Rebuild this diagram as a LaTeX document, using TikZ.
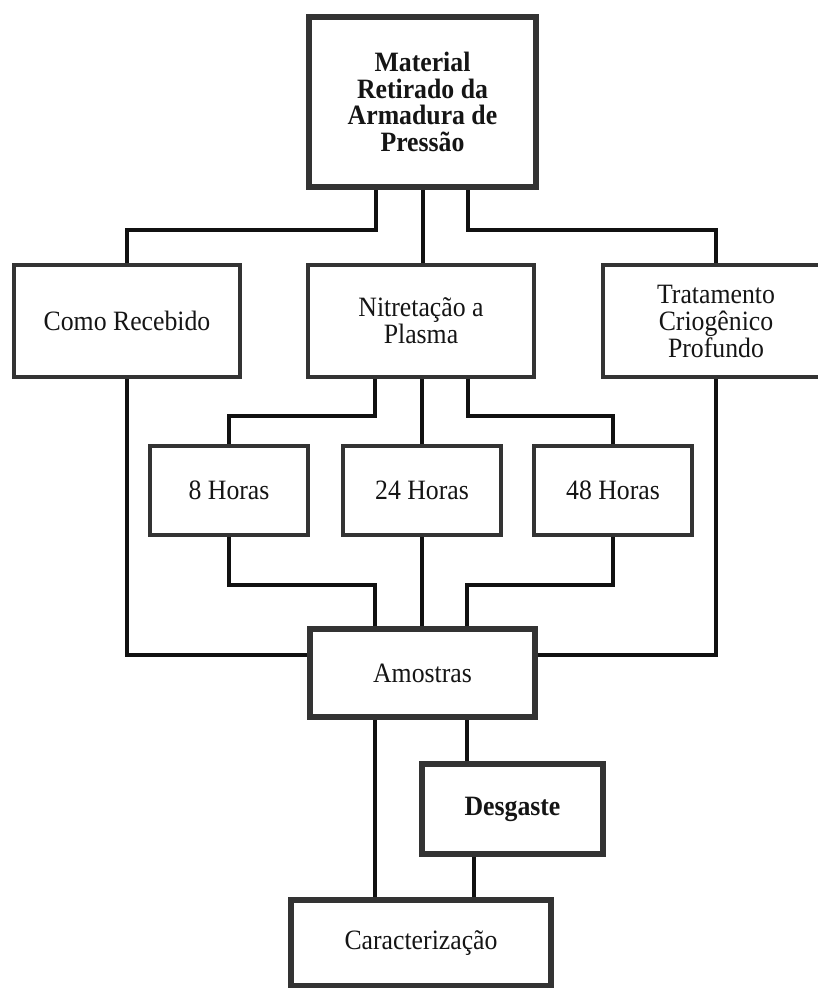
\documentclass[tikz,border=0pt]{standalone}
\usepackage{fontspec}
\setmainfont[FakeStretch=0.92]{Liberation Serif}
\usetikzlibrary{calc}
\definecolor{boxc}{HTML}{333333}
\definecolor{linec}{HTML}{111111}
\definecolor{txt}{HTML}{151515}
\begin{document}
\begin{tikzpicture}[x=1pt,y=-1pt,
  box/.style={draw=boxc, line width=4.5pt, fill=white, inner sep=0pt, align=center,
    font=\fontsize{28}{27}\selectfont, text=txt},
  heavy/.style={box, line width=6.5pt},
  conn/.style={draw=linec, line width=3.6pt}]
\useasboundingbox (0,0) rectangle (818,988);
\clip (0,0) rectangle (818,988);
\fill[white] (0,0) rectangle (818,988);

% nodes
\node[heavy, minimum width=227pt, minimum height=170pt, font=\bfseries\fontsize{28}{26.5}\selectfont] (top) at (422.5,102) {Material\\Retirado da\\Armadura de\\Pressão};
\node[box, minimum width=226pt, minimum height=112pt] (como) at (127,321) {Como Recebido};
\node[box, minimum width=226pt, minimum height=112pt] (nit) at (421,321) {Nitretação a\\Plasma};
\node[box, minimum width=226pt, minimum height=112pt] (trat) at (716,321) {Tratamento\\Criogênico\\Profundo};
\node[box, minimum width=158pt, minimum height=89pt] (h8) at (229,490.5) {8 Horas};
\node[box, minimum width=158pt, minimum height=89pt] (h24) at (422,490.5) {24 Horas};
\node[box, minimum width=158pt, minimum height=89pt] (h48) at (613,490.5) {48 Horas};
\node[heavy, minimum width=225pt, minimum height=88pt] (amo) at (422.5,673) {Amostras};
\node[heavy, minimum width=181pt, minimum height=90pt, font=\bfseries\fontsize{28}{27}\selectfont] (des) at (512.5,809) {Desgaste};
\node[heavy, minimum width=260pt, minimum height=86pt] (car) at (421,943) {Caracterização};

% connectors: top -> second level
\draw[conn] ([xshift=-46.5pt]top.south) -- ++(0,40) -| (como.north);
\draw[conn] ([xshift=0.5pt]top.south) -- ([xshift=0.5pt]top.south |- nit.north);
\draw[conn] ([xshift=45.5pt]top.south) -- ++(0,40) -| (trat.north);
% Nitretacao -> hours
\draw[conn] ([xshift=-46pt]nit.south) -- ++(0,37) -| (h8.north);
\draw[conn] ([xshift=1pt]nit.south) -- (h24.north);
\draw[conn] ([xshift=47pt]nit.south) -- ++(0,37) -| (h48.north);
% hours -> Amostras
\draw[conn] (h8.south) -- ++(0,48) -| ([xshift=-47.5pt]amo.north);
\draw[conn] (h24.south) -- (amo.north -| h24.south);
\draw[conn] (h48.south) -- ++(0,48) -| ([xshift=44.5pt]amo.north);
% side branches -> Amostras
\draw[conn] (como.south) |- ([yshift=18pt]amo.west);
\draw[conn] (trat.south) |- ([yshift=18pt]amo.east);
% Amostras -> Desgaste / Caracterizacao
\draw[conn] ([xshift=-47.5pt]amo.south) -- ([xshift=-47.5pt]amo.south |- car.north);
\draw[conn] ([xshift=44.5pt]amo.south) -- ([xshift=44.5pt]amo.south |- des.north);
\draw[conn] ([xshift=-38.5pt]des.south) -- ([xshift=-38.5pt]des.south |- car.north);
\end{tikzpicture}
\end{document}
